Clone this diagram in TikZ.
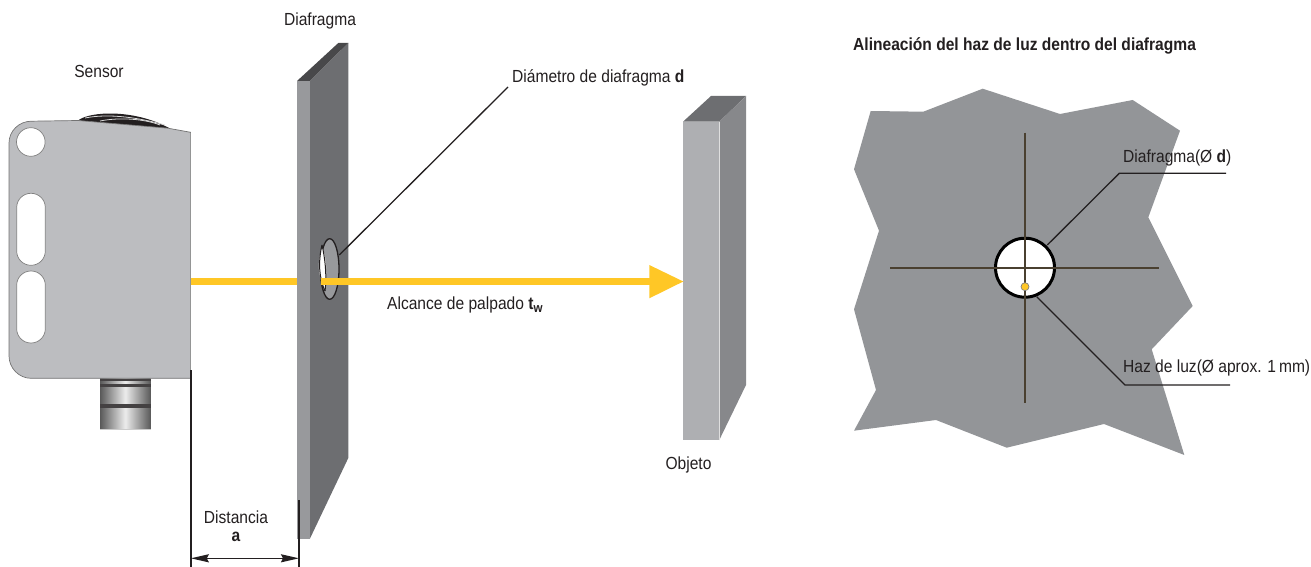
\documentclass[tikz,border=0pt]{standalone}
\usepackage{fontspec}
\setmainfont[FakeStretch=0.89]{Liberation Sans}
\usetikzlibrary{arrows.meta}
\definecolor{beam}{HTML}{FFC726}
\definecolor{housing}{HTML}{BCBDC0}
\definecolor{plateL}{HTML}{98999C}
\definecolor{plateR}{HTML}{6D6E71}
\definecolor{plateT}{HTML}{48484A}
\definecolor{objF}{HTML}{AEAFB2}
\definecolor{objR}{HTML}{87888B}
\definecolor{sheet}{HTML}{939598}
\definecolor{crossc}{HTML}{4A4030}
\definecolor{ink}{HTML}{231F20}
\tikzset{
  lab/.style={font=\fontsize{17.5}{20}\selectfont,text=ink,inner sep=0pt},
  leader/.style={draw=ink,line width=1.3pt},
  hole/.style={draw=gray,line width=.7pt,fill=white},
  crossline/.style={draw=crossc,line width=1.3pt},
  beamline/.style={draw=beam,line width=7.4pt},
  dimline/.style={draw=ink,line width=1.6pt},
  dimarrow/.style={draw=ink,line width=1.6pt,{Stealth[length=18pt,width=8pt,inset=2pt]}-{Stealth[length=18pt,width=8pt,inset=2pt]}}
}
\begin{document}
\begin{tikzpicture}[x=1pt,y=-1pt]
\useasboundingbox (0,0) rectangle (1311,567);
% sensor dome
\fill[ink] (78,120.5) .. controls (90,111) and (135,109) .. (170,128.5) -- cycle;
\draw[white!70!gray,line width=.8pt] (85,118) .. controls (110,113) and (140,118) .. (165,125);
\draw[white!70!gray,line width=.8pt] (100,121) .. controls (120,117) and (145,119) .. (160,125);
% connector
\shade[left color=gray!70!black,right color=gray!70!black,middle color=white!85!gray] (100,378) rectangle (150.5,429);
\fill[gray!40] (100,428.5) rectangle (150.5,429.5);
\fill[ink!85] (100,379) rectangle (150.5,381);
\fill[ink!85] (100,384) rectangle (150.5,386.5);
\fill[ink!85] (100,404) rectangle (150.5,407.5);
% housing
\draw[draw=gray!90!black,line width=.7pt,fill=housing] (78,120.5) -- (31,121.2) .. controls (19,121.4) and (9,131) .. (9,143) -- (9,356) .. controls (9,368) and (19,378.3) .. (31,378.3) -- (190.6,378.3) -- (190.6,132.3) -- (168,128.2) -- cycle;
\draw[hole] (30.8,142) circle (14.3);
\draw[hole,rounded corners=14.2pt] (16.7,193.3) rectangle (45.3,265.3);
\draw[hole,rounded corners=14.2pt] (16.7,271) rectangle (45.3,343);
% diaphragm plate
\fill[plateT] (297,81) -- (310,81) -- (348.3,43) -- (338.3,43) -- cycle;
\fill[plateR] (310,81) -- (348.3,43) -- (348.3,458) -- (310,538.5) -- cycle;
\fill[plateL] (297,81) rectangle (310,538.5);
% aperture
\draw[ink,line width=1.3pt,fill=plateL] (329.7,269) ellipse [x radius=9.3,y radius=30.3];
\fill[white] (322,247) .. controls (317,262) and (318,278) .. (325,289) .. controls (327,275) and (327,258) .. (322,247) -- cycle;
\draw[ink,line width=1pt] (322,245) .. controls (325,258) and (327,275) .. (325,291);
\draw[ink,line width=1pt] (322,245) .. controls (318,262) and (319,278) .. (325,291);
% object
\fill[plateR] (683,121.7) -- (711,96) -- (746,96) -- (719.3,121.7) -- cycle;
\fill[objR] (719.3,121.7) -- (746,96) -- (746,385) -- (719.3,440) -- cycle;
\fill[objF] (683,121.7) rectangle (719.3,440);
\draw[white!75!gray,line width=.5pt] (719.3,121.7) -- (719.3,440);
% beam
\coordinate (s1) at (190.8,281.5);
\coordinate (s2) at (297,281.5);
\coordinate (s3) at (320.7,281.5);
\coordinate (s4) at (652,281.5);
\coordinate (tip) at (683.3,281.5);
\draw[beamline] (s1) -- (s2);
\draw[beamline] (s3) -- (s4);
\fill[beam] (tip) -- (649.3,265) -- (649.3,298.3) -- cycle;
% labels left
\node[lab] (diaf) at (320,21) {Diafragma};
\node[lab] (sens) at (99,71) {Sensor};
\node[lab,anchor=west] (diam) at (512,78) {Diámetro de diafragma \textbf{d}};
\node[lab,anchor=west] (alc) at (387,305) {Alcance de palpado \textbf{t\raisebox{-3pt}{\fontsize{13}{14}\selectfont w}}};
\node[lab] (obj) at (688.5,465) {Objeto};
\node[lab] (dist) at (236,517) {Distancia};
\node[lab] (adim) at (236,537) {\textbf{a}};
\coordinate (l1) at (339.3,255);
\coordinate (l2) at (508,87);
\draw[leader] (l1) -- (l2);
% dimension
\coordinate (d1a) at (190.8,370);
\coordinate (d1b) at (190.8,567);
\coordinate (d2a) at (299,500);
\coordinate (d2b) at (299,567);
\coordinate (d1m) at (190.8,558.3);
\coordinate (d2m) at (299,558.3);
\draw[dimline] (d1a) -- (d1b);
\draw[dimline] (d2a) -- (d2b);
\draw[dimarrow] (d1m) -- (d2m);
% right view
\fill[sheet] (870.7,111) -- (923.3,111.7) -- (982.7,88.7) -- (1060,114) -- (1132.7,100) -- (1180,130.7) -- (1148.3,217.3) -- (1192.7,306) -- (1151.7,349.3) -- (1184.3,455) -- (1104,424) -- (1006.7,447.7) -- (936,420) -- (854,430.7) -- (876,390) -- (854,309.3) -- (879,230.7) -- (854,169.3) -- cycle;
\node[circle,draw=black,line width=3pt,fill=white,minimum size=59pt,inner sep=0pt] (ap) at (1025,267.7) {};
\draw[crossline] (890,268) -- (1159.3,268);
\draw[crossline] (1025,132.7) -- (1025,402.7);
\node[circle,draw=gray,line width=.7pt,fill=beam,minimum size=8pt,inner sep=0pt] (dot) at (1025,286.7) {};
\node[lab,anchor=west,font=\fontsize{17.5}{20}\selectfont\bfseries] (title) at (853,46) {Alineación del haz de luz dentro del diafragma};
\node[lab,anchor=west] (t1) at (1123,158) {Diafragma(Ø \textbf{d})};
\node[lab,anchor=west] (t2) at (1123,368) {Haz de luz(Ø aprox. 1\,mm)};
\coordinate (p1) at (1047.3,245);
\coordinate (p2) at (1119.3,173.3);
\coordinate (p3) at (1226,173.3);
\coordinate (q1) at (1036.7,296.7);
\coordinate (q2) at (1125,385);
\coordinate (q3) at (1230,385);
\draw[leader] (p1) -- (p2) -- (p3);
\draw[leader] (q1) -- (q2) -- (q3);
\end{tikzpicture}
\end{document}
